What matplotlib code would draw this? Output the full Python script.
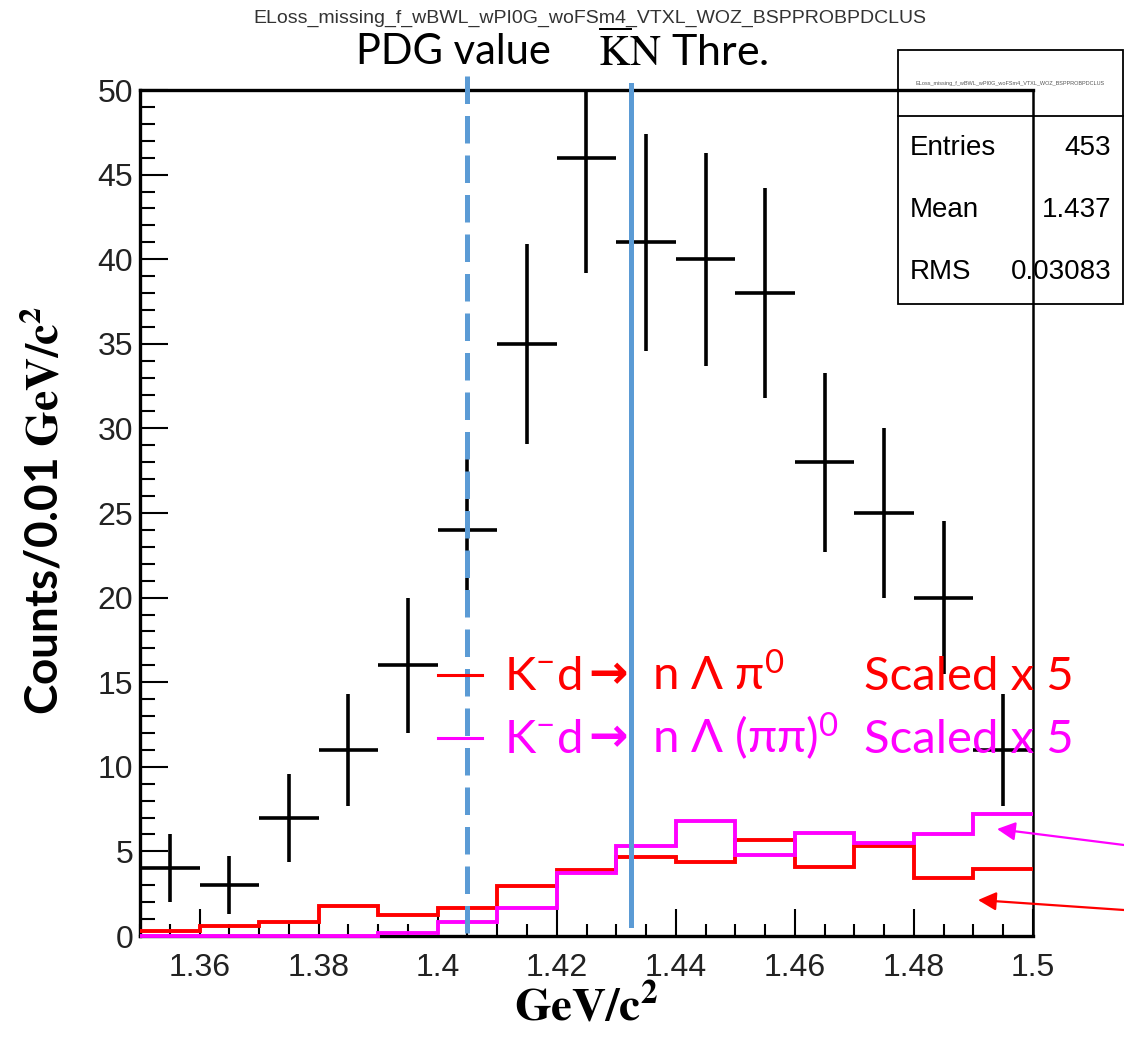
import matplotlib
matplotlib.use("Agg")
import matplotlib.pyplot as plt
from matplotlib.patches import Rectangle
from matplotlib.lines import Line2D
from matplotlib.ticker import MultipleLocator, FuncFormatter

# =========================
# DATA
# =========================
bin_edges = [1.35, 1.36, 1.37, 1.38, 1.39, 1.40, 1.41, 1.42,
             1.43, 1.44, 1.45, 1.46, 1.47, 1.48, 1.49, 1.50]
data_counts = [4, 3, 7, 11, 16, 24, 35, 46, 41, 40, 38, 28, 25, 20, 11]
data_errors = [2.0, 1.7, 2.6, 3.3, 4.0, 4.9, 5.9, 6.8, 6.4, 6.3, 6.2, 5.3, 5.0, 4.5, 3.3]
# K-d -> n Lambda pi0, scaled x5
red_scaled = [0.3, 0.6, 0.85, 1.8, 1.25, 1.65, 2.95, 3.9, 4.65, 4.4, 5.7, 4.1, 5.3, 3.45, 3.95]
# K-d -> n Lambda (pi pi)0, scaled x5
magenta_scaled = [0, 0, 0, 0, 0.15, 0.85, 1.65, 3.7, 5.3, 6.8, 4.8, 6.1, 5.5, 6.0, 7.2]

PDG_MASS = 1.405       # Lambda(1405)
KN_THRESHOLD = 1.4324  # K- p threshold

x_ticks_major = 0.02
x_ticks_minor = 0.005
stats_labels = ["Entries", "Mean", "RMS"]
stats_values = ["453", "1.437", "0.03083"]
hist_name = "ELoss_missing_f_wBWL_wPI0G_woFSm4_VTXL_WOZ_BSPPROBPDCLUS"

# =========================
# STYLE
# =========================
W, H = 1124, 1044
BLUE = "#5B9BD5"
plt.rcParams["mathtext.fontset"] = "custom"
plt.rcParams["mathtext.rm"] = "Lato"
plt.rcParams["mathtext.it"] = "Lato:italic"
plt.rcParams["mathtext.bf"] = "Lato:bold"
SANS = ["Lato", "DejaVu Sans"]
ROOTFONT = ["Liberation Sans", "DejaVu Sans"]


def fx(px):
    return px / W


def fy(py):
    return 1 - py / H


fig = plt.figure(figsize=(W / 100, H / 100), dpi=100)
ax = fig.add_axes([fx(140), fy(936), (1033 - 140) / W, (936 - 90) / H])
ax.patch.set_visible(False)

centers = [(a + b) / 2 for a, b in zip(bin_edges[:-1], bin_edges[1:])]
half_w = [(b - a) / 2 for a, b in zip(bin_edges[:-1], bin_edges[1:])]

ax.errorbar(centers, data_counts, yerr=data_errors, xerr=half_w, fmt="none",
            ecolor="black", elinewidth=2.6, capsize=0, zorder=4)
ax.stairs(red_scaled, bin_edges, baseline=None, color="red", lw=2.8,
          zorder=3, clip_on=False)
ax.stairs(magenta_scaled, bin_edges, baseline=None, color="magenta", lw=2.8,
          zorder=3, clip_on=False)

# reference lines
l1, = ax.plot([PDG_MASS, PDG_MASS], [50.8, -0.55], color=BLUE, lw=3.6,
              clip_on=False, zorder=5)
l1.set_dashes((5.5, 2.4))
ax.plot([KN_THRESHOLD, KN_THRESHOLD], [50.3, 0.65], color=BLUE, lw=3.6,
        clip_on=False, zorder=5)

ax.set_xlim(bin_edges[0], bin_edges[-1])
ax.set_ylim(0, 50)
ax.xaxis.set_major_locator(MultipleLocator(x_ticks_major))
ax.xaxis.set_minor_locator(MultipleLocator(x_ticks_minor))
ax.yaxis.set_major_locator(MultipleLocator(5))
ax.yaxis.set_minor_locator(MultipleLocator(1))
ax.xaxis.set_major_formatter(FuncFormatter(lambda v, p: f"{round(v, 3):g}"))
ax.tick_params(which="both", direction="in", top=False, right=False,
               width=1.5, colors="black", labelcolor="#222222")
ax.tick_params(axis="x", which="major", length=19.5, pad=12, labelsize=23)
ax.tick_params(axis="x", which="minor", length=9)
ax.tick_params(axis="y", which="major", length=20, pad=5, labelsize=23)
ax.tick_params(axis="y", which="minor", length=10.5)
for lab in ax.get_xticklabels() + ax.get_yticklabels():
    lab.set_family(ROOTFONT)
for side in ["left", "bottom", "top"]:
    ax.spines[side].set_linewidth(2.4)
ax.spines["right"].set_linewidth(1.8)

# axis titles
fig.text(fx(44), fy(510), r"Counts/0.01 $\mathbf{GeV/c^2}$", rotation=90,
         ha="center", va="center", fontsize=33, fontweight="bold",
         family=SANS, math_fontfamily="stix")
fig.text(fx(586), fy(1020), r"$\mathbf{GeV/c^2}$", ha="center", va="baseline",
         fontsize=34, math_fontfamily="stix")

# histogram title
fig.text(fx(590), fy(18), hist_name, ha="center", va="center", fontsize=14,
         color="#333333", family=ROOTFONT)

# line annotations
fig.text(fx(453), fy(64), "PDG value", ha="center", va="baseline", fontsize=30,
         family=SANS)
fig.text(fx(598), fy(66), r"$\overline{\mathrm{K}}\mathrm{N}$ Thre.", ha="left",
         va="baseline", fontsize=31, family=SANS, math_fontfamily="stix")

# legend rows
rows = [("red", r"n Λ π$^{0}$", 690, 675), ("magenta", r"n Λ (ππ)$^{0}$", 753, 738)]
for col, final, base, ly in rows:
    fig.add_artist(Line2D([fx(438), fx(482)], [fy(ly), fy(ly)], color=col, lw=2.2))
    fig.text(fx(504), fy(base), r"K$^{-}$d", color=col, fontsize=34,
             family=SANS, va="baseline")
    fig.text(fx(588), fy(base - 2), "→", color=col, fontsize=34, fontweight="bold",
             family=["DejaVu Sans"], va="baseline")
    fig.text(fx(652), fy(base), final, color=col, fontsize=34, family=SANS,
             va="baseline")
    fig.text(fx(864), fy(base), "Scaled x 5", color=col, fontsize=34,
             family=SANS, va="baseline")

# arrows pointing at the histograms
for col, tip, tail in [("magenta", (997, 829), (1124, 845)),
                       ("red", (978, 900), (1124, 910))]:
    ax.annotate("", xy=(fx(tip[0]), fy(tip[1])), xycoords="figure fraction",
                xytext=(fx(tail[0]), fy(tail[1])), textcoords="figure fraction",
                arrowprops=dict(arrowstyle="-|>,head_length=0.55,head_width=0.28",
                                color=col, lw=1.6, mutation_scale=20,
                                shrinkA=0, shrinkB=0),
                annotation_clip=False)

# stats box (drawn below the frame)
fig.add_artist(Rectangle((fx(898), fy(304)), (1123 - 898) / W, (304 - 50) / H,
                         transform=fig.transFigure, facecolor="white",
                         edgecolor="black", lw=1.3, zorder=-1))
fig.add_artist(Line2D([fx(898), fx(1123)], [fy(116), fy(116)], color="black",
                      lw=1.3, zorder=-1))
fig.text(fx(1010), fy(83), hist_name, ha="center", va="center", fontsize=4,
         color="#555555", family=ROOTFONT, zorder=-1)
for i, (lab, val) in enumerate(zip(stats_labels, stats_values)):
    yy = 148 + i * 62
    fig.text(fx(910), fy(yy), lab, ha="left", va="center", fontsize=20,
             family=ROOTFONT, zorder=-1)
    fig.text(fx(1111), fy(yy), val, ha="right", va="center", fontsize=20,
             family=ROOTFONT, zorder=-1)

fig.savefig("out.png", dpi=100)
